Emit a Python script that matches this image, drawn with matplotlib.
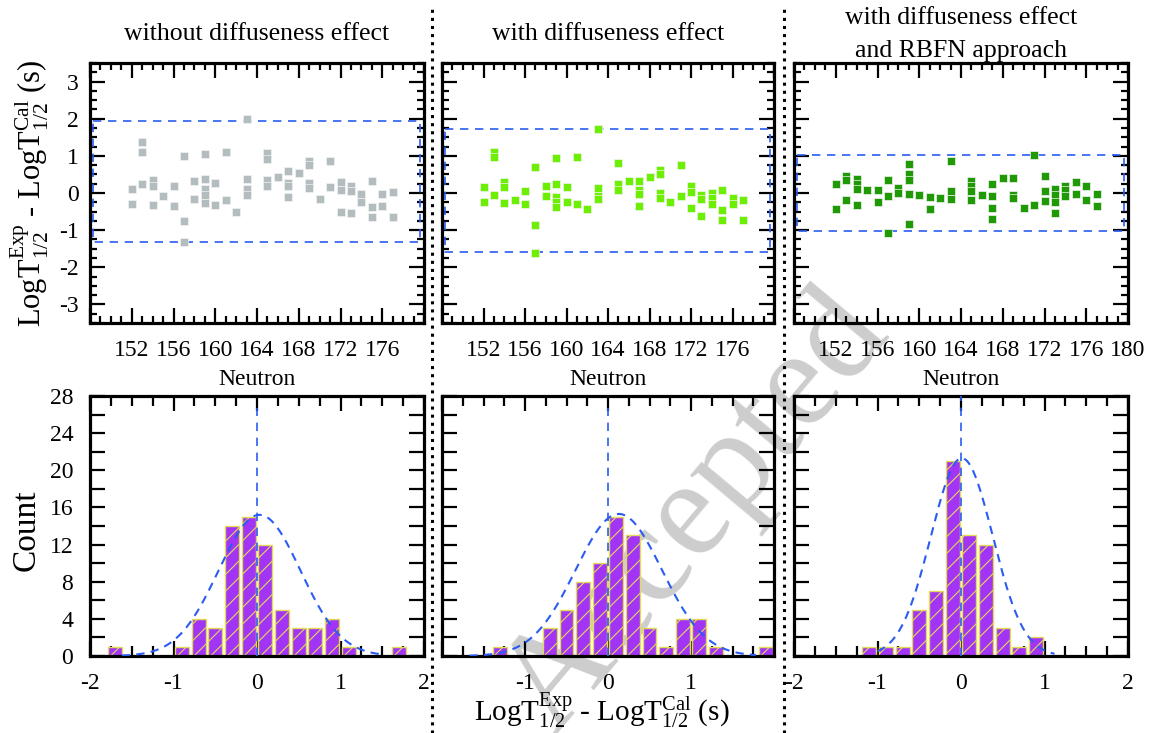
import numpy as np
import matplotlib
matplotlib.use('Agg')
import matplotlib.pyplot as plt
from matplotlib.ticker import MultipleLocator
from matplotlib.lines import Line2D

plt.rcParams['font.family'] = ['Liberation Serif', 'DejaVu Serif']
plt.rcParams['mathtext.fontset'] = 'custom'
plt.rcParams['mathtext.rm'] = 'Liberation Serif'
plt.rcParams['mathtext.it'] = 'Liberation Serif:italic'
plt.rcParams['axes.unicode_minus'] = False
plt.rcParams['hatch.linewidth'] = 0.8

# ---- top row: deviation vs neutron number ----
n1 = [152, 152, 153, 153, 153, 154, 154, 154, 155, 156, 156, 157, 157, 157, 158, 158,
      159, 159, 159, 159, 159, 160, 160, 161, 161, 162, 163, 163, 163, 163,
      165, 165, 165, 165, 166, 167, 167, 167, 167, 168, 169, 169, 169, 169, 170,
      171, 171, 172, 172, 172, 173, 173, 173, 174, 174, 175, 175, 175, 176, 176, 177, 177]
d1 = [0.11, -0.29, 1.38, 1.11, 0.23, 0.36, 0.20, -0.33, -0.07, 0.20, -0.36, 0.99, -0.76, -1.33, 0.32, -0.15,
      1.05, 0.38, 0.10, -0.05, -0.27, 0.27, -0.32, 1.10, -0.18, -0.51, 1.98, 0.39, 0.10, -0.05,
      1.08, 0.92, 0.36, 0.18, 0.42, 0.58, 0.27, 0.18, -0.11, 0.55, 0.86, 0.75, 0.27, 0.13, -0.15,
      0.85, 0.16, 0.29, 0.09, -0.50, 0.20, 0.05, -0.54, -0.02, -0.23, 0.31, -0.38, -0.64, -0.03, -0.36, 0.04, -0.64]

n2 = [152, 152, 153, 153, 153, 154, 154, 154, 155, 156, 156, 157, 157, 157, 158, 158,
      159, 159, 159, 159, 159, 160, 160, 161, 161, 162, 163, 163, 163, 163,
      165, 165, 165, 166, 167, 167, 167, 167, 168, 169, 169, 169, 169, 170,
      171, 171, 172, 172, 172, 173, 173, 173, 174, 174, 174, 175, 175, 175, 176, 176, 177, 177]
d2 = [0.17, -0.23, 1.10, 0.97, -0.05, 0.29, 0.16, -0.27, -0.20, 0.06, -0.29, 0.70, -0.87, -1.61, 0.20, -0.09,
      0.93, 0.24, -0.10, -0.25, -0.38, 0.16, -0.25, 0.97, -0.29, -0.44, 1.71, 0.13, -0.09, -0.16,
      0.81, 0.23, 0.07, 0.32, 0.32, 0.09, -0.03, -0.35, 0.44, 0.61, 0.52, 0.00, -0.14, -0.25,
      0.75, -0.07, 0.18, 0.02, -0.41, -0.05, -0.16, -0.63, 0.00, -0.14, -0.29, 0.09, -0.46, -0.73, -0.14, -0.29, -0.20, -0.72]

n3 = [152, 152, 153, 153, 153, 154, 154, 154, 154, 155, 156, 156, 157, 157, 157, 158, 158,
      159, 159, 159, 159, 159, 160, 161, 161, 162, 163, 163, 163,
      165, 165, 165, 165, 166, 167, 167, 167, 167, 168, 169, 169, 169, 170,
      171, 171, 172, 172, 172, 173, 173, 173, 173, 174, 174, 174, 175, 175, 176, 176, 177, 177]
d3 = [0.25, -0.43, 0.47, 0.36, -0.19, 0.38, 0.23, 0.11, -0.32, 0.09, 0.09, -0.25, 0.36, -0.09, -1.08, 0.14, 0.00,
      0.77, 0.50, 0.36, -0.02, -0.83, -0.06, -0.11, -0.43, -0.14, 0.87, 0.05, -0.15,
      0.32, 0.18, 0.05, -0.18, -0.06, 0.24, -0.07, -0.41, -0.70, 0.41, 0.41, -0.05, -0.14, -0.40,
      1.01, -0.32, 0.47, 0.06, -0.21, 0.11, -0.05, -0.23, -0.54, 0.20, 0.07, -0.09, 0.29, -0.02, 0.18, -0.19, -0.04, -0.35]

bounds = [(1.95, -1.33), (1.71, -1.59), (1.03, -1.02)]
marker_colors = ['#b3bdbf', '#6cef00', '#1f9a05']
titles = ['without diffuseness effect', 'with diffuseness effect',
          'with diffuseness effect\nand RBFN approach']

# ---- bottom row: histograms ----
bins1 = [-1.7, -0.9, -0.7, -0.5, -0.3, -0.1, 0.1, 0.3, 0.5, 0.7, 0.9, 1.1, 1.7]
cnt1 = [1, 1, 4, 3, 14, 15, 12, 5, 3, 3, 4, 1, 1]
bins2 = [-1.3, -0.7, -0.5, -0.3, -0.1, 0.1, 0.3, 0.5, 0.7, 0.9, 1.1, 1.3, 1.9]
cnt2 = [1, 3, 5, 8, 10, 15, 13, 3, 1, 4, 4, 1, 1]
bins3 = [-1.1, -0.9, -0.7, -0.5, -0.3, -0.1, 0.1, 0.3, 0.5, 0.7, 0.9]
cnt3 = [1, 1, 1, 5, 7, 21, 13, 12, 3, 1, 2]

# normal fit: mean, sigma, peak, x range
fits = [(0.03, 0.49, 15.2, -1.62, 1.52),
        (0.13, 0.52, 15.3, -1.67, 1.78),
        (0.01, 0.37, 21.3, -1.00, 1.12)]
vline_top = [26.7, 26.7, 28.0]

W, H = 1153, 733
fig = plt.figure(figsize=(W / 100, H / 100), dpi=100)

fig.text(0.605, 0.30, 'Accepted', rotation=50, fontsize=100, color='#cdcdcd',
         ha='center', va='center', zorder=-1)

lefts = [90, 442, 794]
widths = [334, 332, 334]
blue = '#2b5cf2'

tops = [(n1, d1), (n2, d2), (n3, d3)]
hists = [(bins1, cnt1), (bins2, cnt2), (bins3, cnt3)]

for i in range(3):
    # top panel
    ax = fig.add_axes([lefts[i] / W, 1 - 323 / H, widths[i] / W, 260 / H])
    ax.set_facecolor('none')
    n, d = tops[i]
    ax.plot(n, d, 's', ms=5.6, color=marker_colors[i], mec='#f2f2f2', mew=0.5, zorder=3)
    up, lo = bounds[i]
    ax.plot([148.3, 179.6, 179.6, 148.3, 148.3], [up, up, lo, lo, up], color=blue,
            lw=1.2, dashes=(5, 4), zorder=2)
    ax.set_xlim(148, 180)
    ax.set_ylim(-3.5, 3.5)
    ax.set_xticks(range(148, 181, 4))
    labs = [str(v) for v in range(148, 181, 4)]
    labs[0] = ''
    if i < 2:
        labs[-1] = ''
    ax.set_xticklabels(labs)
    ax.xaxis.set_minor_locator(MultipleLocator(1))
    ax.set_yticks(range(-3, 4))
    ax.yaxis.set_minor_locator(MultipleLocator(0.25))
    if i == 0:
        ax.set_yticklabels([str(v) for v in range(-3, 4)])
    else:
        ax.set_yticklabels([])
    ax.tick_params(which='both', direction='in', top=True, right=True, width=1.6,
                   labelsize=17)
    ax.tick_params(which='major', length=11)
    ax.tick_params(which='minor', length=5)
    ax.tick_params(axis='x', pad=12)
    ax.tick_params(axis='y', pad=8)
    for sp in ax.spines.values():
        sp.set_linewidth(2.3)
    if i < 2:
        ax.text(0.5, 1.11, titles[i], transform=ax.transAxes, ha='center', va='center',
                fontsize=18.5)
    else:
        l1, l2 = titles[i].split('\n')
        ax.text(0.5, 1.172, l1, transform=ax.transAxes, ha='center', va='center', fontsize=18.5)
        ax.text(0.5, 1.047, l2, transform=ax.transAxes, ha='center', va='center', fontsize=18.5)

    # bottom panel
    bx = fig.add_axes([lefts[i] / W, 1 - 656 / H, widths[i] / W, 260 / H])
    bx.set_facecolor('none')
    c, h = hists[i]
    bx.bar(c, h, width=0.168, color='#a234f6', edgecolor='#e2d958', hatch='//',
           lw=1.0, zorder=2)
    mu, sg, amp, xa, xb = fits[i]
    xs = np.linspace(xa, xb, 300)
    bx.plot(xs, amp * np.exp(-(xs - mu) ** 2 / (2 * sg ** 2)), color=blue, lw=1.5,
            dashes=(4, 3), zorder=3)
    bx.plot([0, 0], [0, vline_top[i]], color=blue, lw=1.2, dashes=(5, 4), zorder=3)
    bx.set_xlim(-2, 2)
    bx.set_ylim(0, 28)
    bx.set_xticks([-2, -1, 0, 1, 2])
    if i == 1:
        bx.set_xticklabels(['', '-1', '0', '1', ''])
    else:
        bx.set_xticklabels(['-2', '-1', '0', '1', '2'])
    bx.xaxis.set_minor_locator(MultipleLocator(0.25))
    bx.set_yticks(range(0, 29, 4))
    bx.yaxis.set_minor_locator(MultipleLocator(2))
    if i == 0:
        bx.set_yticklabels([str(v) for v in range(0, 29, 4)])
    else:
        bx.set_yticklabels([])
    bx.tick_params(which='both', direction='in', top=True, right=True, width=1.6,
                   labelsize=17)
    bx.tick_params(axis='x', which='major', length=11, pad=12)
    bx.tick_params(axis='x', which='minor', length=7)
    bx.tick_params(axis='y', which='both', length=11, pad=12)
    for sp in bx.spines.values():
        sp.set_linewidth(2.3)
    bx.text(0.5, 1.062, 'Neutron', transform=bx.transAxes, ha='center', va='center',
            fontsize=17)

lab = r'LogT$^{\mathrm{Exp}}_{\mathrm{1/2}}$ - LogT$^{\mathrm{Cal}}_{\mathrm{1/2}}$ (s)'
fig.text(30 / W, 1 - 193 / H, lab, rotation=90, ha='center', va='center', fontsize=22)
fig.text(26 / W, 1 - 530 / H, 'Count', rotation=90, ha='center', va='center', fontsize=24)
fig.text(602 / W, 1 - 710 / H, lab, ha='center', va='center', fontsize=21)

for xp in [432, 784]:
    fig.add_artist(Line2D([xp / W, xp / W], [0, 1 - 8 / H], transform=fig.transFigure,
                          ls=':', color='k', lw=2.2))

fig.savefig('out.png', dpi=100)
